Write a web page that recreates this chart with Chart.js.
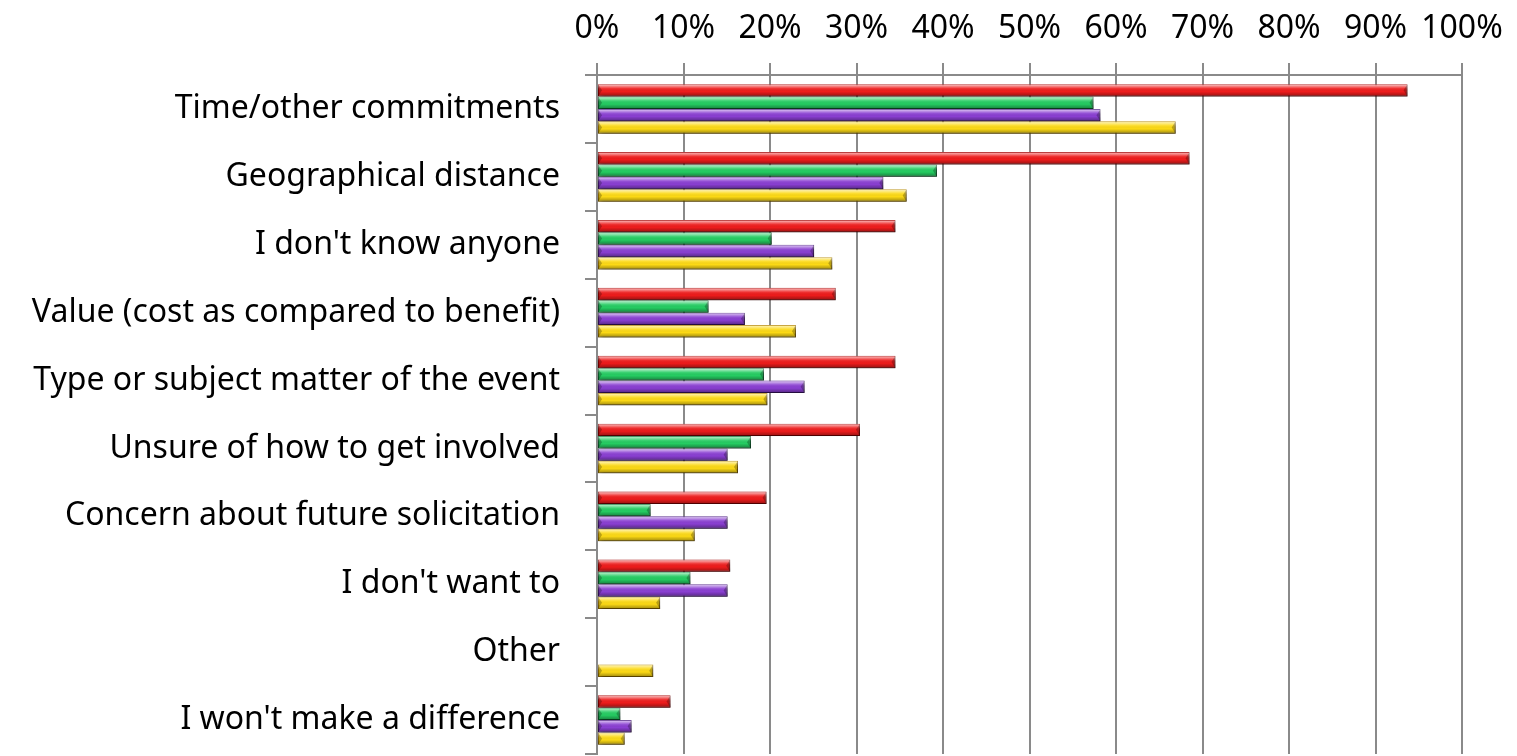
<!DOCTYPE html>
<html>
<head>
<meta charset="utf-8">
<title>Barriers to involvement</title>
<script src="https://cdn.jsdelivr.net/npm/chart.js@4.4.0/dist/chart.umd.min.js"></script>
<style>
  html, body { margin: 0; padding: 0; background: #fff; }
  #wrap { width: 1517px; height: 756px; }
</style>
</head>
<body>
<div id="wrap"><canvas id="barChart" width="1517" height="756"></canvas></div>
<script>
// ---------- DATA ----------
const categories = [
  "Time/other commitments",
  "Geographical distance",
  "I don't know anyone",
  "Value (cost as compared to benefit)",
  "Type or subject matter of the event",
  "Unsure of how to get involved",
  "Concern about future solicitation",
  "I don't want to",
  "Other",
  "I won't make a difference"
];

// percent of respondents, one array per group
const redValues    = [93.7, 68.5, 34.5, 27.6, 34.5, 30.4, 19.6, 15.4, 0, 8.5];
const greenValues  = [57.4, 39.3, 20.2, 12.9, 19.3, 17.8, 6.2, 10.8, 0, 2.7];
const purpleValues = [58.2, 33.1, 25.1, 17.1, 24.0, 15.1, 15.1, 15.1, 0, 4.0];
const yellowValues = [66.9, 35.8, 27.2, 23.0, 19.7, 16.3, 11.3, 7.3, 6.5, 3.2];

const tickValues = [0, 10, 20, 30, 40, 50, 60, 70, 80, 90, 100];

// ---------- STYLE ----------
const FONT = "'Noto Sans', 'Open Sans', sans-serif";
const GRID = "#8a8a8a";

// shadow under each bar + glossy bevel on top of it
const bevelPlugin = {
  id: "bevel",
  beforeDatasetDraw(chart) {
    const ctx = chart.ctx;
    ctx.save();
    ctx.shadowColor = "rgba(0,0,0,0.35)";
    ctx.shadowBlur = 4;
    ctx.shadowOffsetX = 2;
    ctx.shadowOffsetY = 3;
  },
  afterDatasetDraw(chart, args) {
    const ctx = chart.ctx;
    ctx.restore();
    args.meta.data.forEach(function (bar) {
      const p = bar.getProps(["x", "y", "base", "height"], true);
      const left = Math.min(p.base, p.x);
      const right = Math.max(p.base, p.x);
      const top = p.y - p.height / 2;
      const h = p.height;
      if (right - left < 1) return;
      const g = ctx.createLinearGradient(0, top, 0, top + h);
      g.addColorStop(0, "rgba(255,255,255,0.15)");
      g.addColorStop(0.12, "rgba(255,255,255,0.55)");
      g.addColorStop(0.35, "rgba(255,255,255,0.10)");
      g.addColorStop(0.6, "rgba(0,0,0,0)");
      g.addColorStop(1, "rgba(0,0,0,0.38)");
      ctx.save();
      ctx.fillStyle = g;
      ctx.fillRect(left, top, right - left, h);
      // little bevel at the rounded ends
      ctx.fillStyle = "rgba(0,0,0,0.25)";
      ctx.beginPath();
      ctx.moveTo(right, top);
      ctx.lineTo(right, top + h);
      ctx.lineTo(right - 4, top + h / 2);
      ctx.closePath();
      ctx.fill();
      ctx.beginPath();
      ctx.moveTo(left, top);
      ctx.lineTo(left, top + h);
      ctx.lineTo(left + 4, top + h / 2);
      ctx.closePath();
      ctx.fill();
      ctx.restore();
    });
  }
};

function series(label, values, fill, edge) {
  return {
    label: label,
    data: values,
    backgroundColor: fill,
    borderColor: edge,
    borderWidth: 1,
    borderSkipped: false,
    categoryPercentage: 0.73,
    barPercentage: 1.0
  };
}

const canvas = document.getElementById("barChart");

new Chart(canvas, {
  type: "bar",
  data: {
    labels: categories,
    datasets: [
      series("Group 1", redValues, "#ee1c1c", "#a80000"),
      series("Group 2", greenValues, "#25cc62", "#0f7a3a"),
      series("Group 3", purpleValues, "#8a3fd2", "#4f1d86"),
      series("Group 4", yellowValues, "#fcd915", "#b88a00")
    ]
  },
  plugins: [bevelPlugin],
  options: {
    indexAxis: "y",
    responsive: false,
    animation: false,
    devicePixelRatio: 1,
    layout: { autoPadding: false, padding: { top: 0, right: 55, bottom: 2, left: 0 } },
    plugins: {
      legend: { display: false },
      tooltip: { enabled: false }
    },
    scales: {
      x: {
        position: "top",
        min: 0,
        max: 100,
        afterFit: function (scale) {
          scale.height = 75;
          scale.paddingLeft = 0;
          scale.paddingRight = 0;
        },
        afterBuildTicks: function (scale) {
          scale.ticks = tickValues.map(function (v) { return { value: v }; });
        },
        ticks: {
          color: "#000",
          font: { family: FONT, size: 32 },
          padding: 15,
          maxRotation: 0,
          callback: function (v) { return v + "%"; }
        },
        grid: { color: GRID, lineWidth: 2, tickLength: 12 },
        border: { display: true, color: GRID, width: 2 }
      },
      y: {
        afterFit: function (scale) {
          scale.width = 597;
          scale.paddingTop = 0;
          scale.paddingBottom = 0;
        },
        ticks: {
          color: "#000",
          font: { family: FONT, size: 32 },
          padding: 25
        },
        grid: {
          color: GRID,
          lineWidth: 2,
          tickLength: 12,
          drawOnChartArea: false,
          offset: true
        },
        border: { display: true, color: GRID, width: 2 }
      }
    }
  }
});
</script>
</body>
</html>
